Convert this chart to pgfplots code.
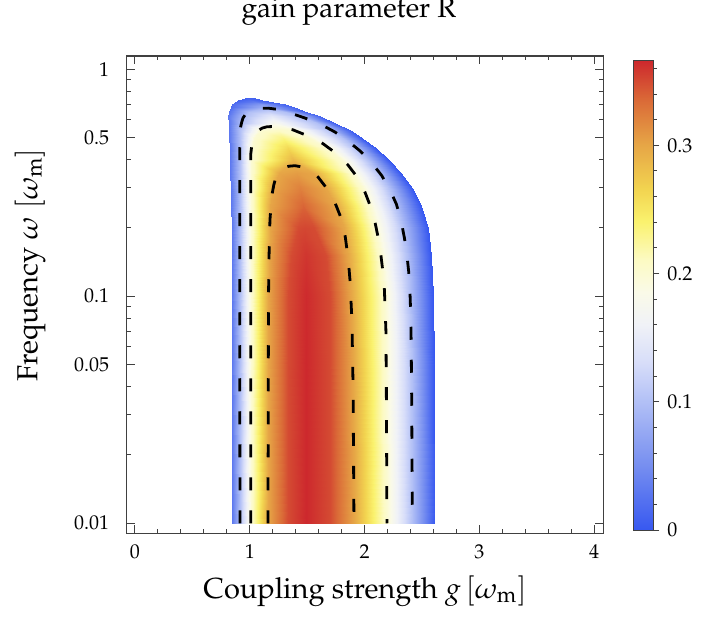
\documentclass[border=0pt]{standalone}
\usepackage[T1]{fontenc}
\usepackage{mathpazo}
\usepackage{pgfplots}
\pgfplotsset{compat=1.18}

% gain R on a curvilinear grid: one row per frequency, nodes at the level crossings
\pgfplotstableread{
g w r
0.847 0.01 0.03
0.912 0.01 0.1
1.008 0.01 0.2
1.159 0.01 0.3
1.330 0.01 0.35
1.490 0.01 0.366
1.700 0.01 0.35
1.908 0.01 0.3
2.195 0.01 0.2
2.417 0.01 0.1
2.613 0.01 0.0
0.847 0.05 0.03
0.912 0.05 0.1
1.008 0.05 0.2
1.161 0.05 0.3
1.330 0.05 0.35
1.490 0.05 0.366
1.700 0.05 0.35
1.900 0.05 0.3
2.190 0.05 0.2
2.410 0.05 0.1
2.602 0.05 0.0
0.847 0.1 0.03
0.912 0.1 0.1
1.008 0.1 0.2
1.163 0.1 0.3
1.335 0.1 0.35
1.490 0.1 0.365
1.695 0.1 0.35
1.881 0.1 0.3
2.175 0.1 0.2
2.397 0.1 0.1
2.593 0.1 0.0
0.845 0.15 0.03
0.912 0.15 0.1
1.008 0.15 0.2
1.168 0.15 0.3
1.360 0.15 0.35
1.490 0.15 0.36
1.660 0.15 0.35
1.853 0.15 0.3
2.144 0.15 0.2
2.370 0.15 0.1
2.581 0.15 0.0
0.842 0.2 0.03
0.912 0.2 0.1
1.008 0.2 0.2
1.174 0.2 0.3
1.420 0.2 0.35
1.480 0.2 0.352
1.560 0.2 0.35
1.817 0.2 0.3
2.101 0.2 0.2
2.331 0.2 0.1
2.552 0.2 0.0
0.838 0.25 0.03
0.912 0.25 0.1
1.008 0.25 0.2
1.180 0.25 0.3
1.460 0.25 0.338
1.460 0.25 0.338
1.460 0.25 0.338
1.754 0.25 0.3
2.047 0.25 0.2
2.276 0.25 0.1
2.492 0.25 0.0
0.835 0.3 0.03
0.912 0.3 0.1
1.008 0.3 0.2
1.206 0.3 0.3
1.440 0.3 0.322
1.440 0.3 0.322
1.440 0.3 0.322
1.666 0.3 0.3
1.983 0.3 0.2
2.211 0.3 0.1
2.410 0.3 0.0
0.831 0.35 0.03
0.912 0.35 0.1
1.008 0.35 0.2
1.257 0.35 0.3
1.410 0.35 0.306
1.410 0.35 0.306
1.410 0.35 0.306
1.548 0.35 0.3
1.902 0.35 0.2
2.125 0.35 0.1
2.314 0.35 0.0
0.828 0.4 0.03
0.912 0.4 0.1
1.008 0.4 0.2
1.375 0.4 0.288
1.375 0.4 0.288
1.375 0.4 0.288
1.375 0.4 0.288
1.375 0.4 0.288
1.805 0.4 0.2
2.034 0.4 0.1
2.216 0.4 0.0
0.824 0.45 0.03
0.913 0.45 0.1
1.017 0.45 0.2
1.335 0.45 0.262
1.335 0.45 0.262
1.335 0.45 0.262
1.335 0.45 0.262
1.335 0.45 0.262
1.686 0.45 0.2
1.926 0.45 0.1
2.102 0.45 0.0
0.820 0.5 0.03
0.914 0.5 0.1
1.038 0.5 0.2
1.290 0.5 0.234
1.290 0.5 0.234
1.290 0.5 0.234
1.290 0.5 0.234
1.290 0.5 0.234
1.527 0.5 0.2
1.809 0.5 0.1
1.978 0.5 0.0
0.817 0.54 0.03
0.915 0.54 0.1
1.086 0.54 0.2
1.250 0.54 0.207
1.250 0.54 0.207
1.250 0.54 0.207
1.250 0.54 0.207
1.250 0.54 0.207
1.380 0.54 0.2
1.702 0.54 0.1
1.876 0.54 0.005
0.815 0.58 0.03
0.930 0.58 0.1
1.220 0.58 0.178
1.220 0.58 0.178
1.220 0.58 0.178
1.220 0.58 0.178
1.220 0.58 0.178
1.220 0.58 0.178
1.220 0.58 0.178
1.588 0.58 0.1
1.744 0.58 0.005
0.814 0.62 0.03
0.955 0.62 0.1
1.190 0.62 0.145
1.190 0.62 0.145
1.190 0.62 0.145
1.190 0.62 0.145
1.190 0.62 0.145
1.190 0.62 0.145
1.190 0.62 0.145
1.434 0.62 0.1
1.609 0.62 0.01
0.822 0.65 0.025
0.995 0.65 0.1
1.170 0.65 0.118
1.170 0.65 0.118
1.170 0.65 0.118
1.170 0.65 0.118
1.170 0.65 0.118
1.170 0.65 0.118
1.170 0.65 0.118
1.314 0.65 0.1
1.501 0.65 0.01
0.835 0.68 0.02
1.130 0.68 0.085
1.130 0.68 0.085
1.130 0.68 0.085
1.130 0.68 0.085
1.130 0.68 0.085
1.130 0.68 0.085
1.130 0.68 0.085
1.130 0.68 0.085
1.130 0.68 0.085
1.388 0.68 0.01
0.844 0.70 0.02
1.100 0.70 0.06
1.100 0.70 0.06
1.100 0.70 0.06
1.100 0.70 0.06
1.100 0.70 0.06
1.100 0.70 0.06
1.100 0.70 0.06
1.100 0.70 0.06
1.100 0.70 0.06
1.307 0.70 0.01
0.872 0.72 0.015
1.050 0.72 0.035
1.050 0.72 0.035
1.050 0.72 0.035
1.050 0.72 0.035
1.050 0.72 0.035
1.050 0.72 0.035
1.050 0.72 0.035
1.050 0.72 0.035
1.050 0.72 0.035
1.202 0.72 0.01
0.895 0.735 0.01
1.000 0.735 0.02
1.000 0.735 0.02
1.000 0.735 0.02
1.000 0.735 0.02
1.000 0.735 0.02
1.000 0.735 0.02
1.000 0.735 0.02
1.000 0.735 0.02
1.000 0.735 0.02
1.103 0.735 0.01
0.958 0.745 0.01
1.000 0.745 0.01
1.000 0.745 0.01
1.000 0.745 0.01
1.000 0.745 0.01
1.000 0.745 0.01
1.000 0.745 0.01
1.000 0.745 0.01
1.000 0.745 0.01
1.000 0.745 0.01
1.045 0.745 0.01
}\gaingrid

\begin{document}
\begin{tikzpicture}
\begin{axis}[
    name=main,
    scale only axis,
    width=238.3pt, height=238.6pt,
    xmin=-0.072, xmax=4.08,
    ymode=log, ymin=0.00904, ymax=1.144,
    xtick={0,1,2,3,4},
    minor x tick num=4,
    ytick={0.01,0.05,0.1,0.5,1},
    yticklabels={0.01,0.05,0.1,0.5,1},
    minor ytick={0.02,0.03,0.04,0.06,0.07,0.08,0.09,0.2,0.3,0.4,0.6,0.7,0.8,0.9},
    tick align=inside,
    major tick length=4pt, minor tick length=2pt,
    axis line style={black!75, line width=0.6pt},
    every tick/.style={black!75, line width=0.5pt},
    tick label style={font=\fontsize{10}{12}\selectfont},
    xticklabel style={yshift=-2.2pt},
    yticklabel style={xshift=-5.2pt},
    xlabel={Coupling strength $g\,[\omega_{\mathrm{m}}]$},
    xlabel style={font=\fontsize{14.5}{17}\selectfont, at={(axis description cs:0.5,0)}, anchor=base, yshift=-32.5pt},
    ylabel={Frequency $\omega\;[\omega_{\mathrm{m}}]$},
    ylabel style={font=\fontsize{14.5}{17}\selectfont, at={(axis description cs:-0.1876,0.562)}, anchor=base, rotate=0},
    title={gain parameter R},
    title style={font=\fontsize{14}{16}\selectfont, at={(axis description cs:0.466,1)}, anchor=base, yshift=13pt},
    colormap={gainmap}{
        rgb255(0pt)=(55,88,240) rgb255(50pt)=(118,142,240) rgb255(100pt)=(178,192,246)
        rgb255(130pt)=(215,221,249) rgb255(160pt)=(240,242,247) rgb255(185pt)=(250,250,232)
        rgb255(210pt)=(252,250,195) rgb255(240pt)=(250,242,110) rgb255(265pt)=(242,212,80)
        rgb255(300pt)=(230,165,70) rgb255(335pt)=(218,105,55) rgb255(365pt)=(205,40,45)},
    point meta min=0, point meta max=0.366,
    colorbar,
    colorbar style={
        at={(parent axis.north east)}, anchor=north west,
        xshift=6.5pt, yshift=-2.35pt,
        width=10pt, height=234.7pt,
        ytick={0,0.1,0.2,0.3}, yticklabels={0,0.1,0.2,0.3},
        minor ytick={0.02,0.04,0.06,0.08,0.12,0.14,0.16,0.18,0.22,0.24,0.26,0.28,0.32,0.34,0.36},
        tick align=outside, major tick length=3pt, minor tick length=1.7pt,
        ytick pos=right, yticklabel pos=right,
        axis line style={black!75, line width=0.5pt},
        every tick/.style={black!75, line width=0.5pt},
        yticklabel style={font=\fontsize{10}{12}\selectfont, xshift=0.5pt},
    },
]
\addplot[surf, shader=interp, mesh/cols=11, point meta=explicit]
    table[x=g, y=w, meta=r] {\gaingrid};

% dashed contour lines R = 0.1, 0.2, 0.3
\addplot[black, line width=1.4pt, dash pattern=on 6.5pt off 10pt] coordinates {
(0.915,0.01)(0.912,0.1)(0.912,0.3)(0.912,0.45)(0.915,0.541)(0.930,0.585)(0.941,0.610)
(0.965,0.635)(1.002,0.655)(1.05,0.667)(1.106,0.673)(1.16,0.674)(1.26,0.664)(1.35,0.642)
(1.48,0.61)(1.611,0.574)(1.74,0.53)(1.855,0.483)(1.965,0.435)(2.064,0.386)(2.15,0.34)
(2.221,0.294)(2.277,0.255)(2.317,0.217)(2.348,0.18)(2.369,0.152)(2.385,0.128)(2.395,0.107)
(2.404,0.0787)(2.41,0.04)(2.417,0.01)};
\addplot[black, line width=1.4pt, dash pattern=on 6.5pt off 10pt] coordinates {
(1.008,0.01)(1.008,0.1)(1.008,0.3)(1.008,0.419)(1.017,0.46)(1.028,0.489)(1.045,0.515)
(1.071,0.536)(1.11,0.551)(1.15,0.558)(1.22,0.56)(1.30,0.553)(1.376,0.541)(1.51,0.508)
(1.638,0.47)(1.755,0.425)(1.855,0.379)(1.94,0.333)(2.003,0.288)(2.05,0.25)(2.091,0.212)
(2.12,0.18)(2.143,0.151)(2.16,0.128)(2.173,0.107)(2.186,0.0711)(2.19,0.04)(2.195,0.01)};
\addplot[black, line width=1.4pt, dash pattern=on 6.5pt off 10pt] coordinates {
(1.159,0.01)(1.163,0.096)(1.168,0.15)(1.176,0.217)(1.193,0.279)(1.21,0.31)(1.228,0.335)
(1.255,0.354)(1.289,0.367)(1.34,0.374)(1.394,0.376)(1.46,0.371)(1.524,0.360)(1.595,0.335)
(1.655,0.306)(1.71,0.278)(1.751,0.252)(1.785,0.228)(1.812,0.206)(1.832,0.183)(1.847,0.16)
(1.862,0.138)(1.873,0.118)(1.890,0.0787)(1.9,0.04)(1.908,0.01)};
\end{axis}
\pgfresetboundingbox
\path ([xshift=-63.35pt,yshift=-43.85pt]main.south west) rectangle ([xshift=48.85pt,yshift=28pt]main.north east);
\end{tikzpicture}
\end{document}
